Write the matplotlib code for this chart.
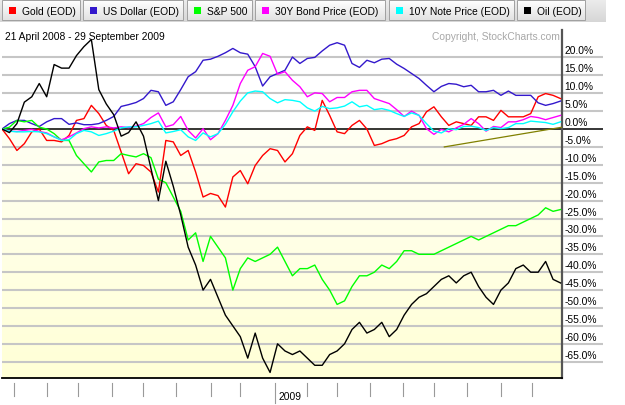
import numpy as np
import pandas as pd
import matplotlib
matplotlib.use('Agg')
import matplotlib.pyplot as plt
from matplotlib.patches import Rectangle

plt.rcParams['font.family'] = ['Liberation Sans', 'DejaVu Sans']

# ---------------- data (percent change since 21 April 2008, sampled weekly) -------------
start_date = '2008-04-21'
end_date = '2009-09-29'
step_days = 5

gold = [0, -2.7, -6, -4.1, -0.8, 0, -3.2, -3.2, -3.6, -1.8, 2.4, 2.9, 6.6, 4.3, 1, -0.4, -6.4, -12.5, -9.7, -10.2,
        -12, -17.6, -3.2, -3.6, -7.4, -6, -12, -19, -18, -18.6, -21.8, -13.4, -11.6, -15.3, -10.2, -7.4, -5.5, -6, -9.2, -6.9,
        -1.8, 0.6, -0.4, 8, 3.8, -0.8, -1.3, 1, 2.4, 0, -4.6, -4.1, -3.2, -2.7, -1.8, 0.6, 1.5, 4.8, 6.2, 3.4,
        1, 2, 1.5, 1, 3.4, 3.4, 2.4, 5.2, 3.4, 3.4, 3.4, 4.3, 9, 9.9, 9.4, 8.5]
us_dollar = [0, 1.5, 2.4, 2.4, 1.5, 0.7, 2, 2.9, 2.9, 1.3, 1.7, 1.2, 1.2, 1.5, 2.4, 3.5, 6.3, 6.8, 7.4, 8.5,
             10.8, 10.4, 6.6, 7.6, 11, 14.6, 16, 19.2, 19.5, 20.3, 21.3, 22.5, 21.3, 20.9, 17.4, 12, 14.6, 15.5, 16.4, 20.1,
             18.3, 19.7, 20, 21.8, 23.4, 24.1, 23.4, 18.3, 17.2, 19.2, 18.5, 19.5, 19.7, 18.1, 16.9, 15.5, 14.1, 12.2, 10.4, 11.9,
             12.7, 12.5, 11.8, 12.2, 10.4, 10.4, 10.8, 9.4, 10.6, 9.4, 9.4, 9.4, 7.3, 6.6, 7.1, 7.8]
sp500 = [0, 0.5, 2.4, 2, 2.4, 0.5, 0, -1.3, -3.2, -3.2, -7.4, -9.7, -12, -9.2, -8.8, -8.8, -6.9, -7.4, -7.8, -6.9,
         -8, -14, -15, -19, -23, -31, -29, -37, -30, -33, -36, -45, -39, -36, -37, -36, -35, -33, -37, -41,
         -39, -39, -38, -42, -45, -49, -48, -44, -41, -41, -40, -38, -39, -37, -34, -34, -35, -35, -35, -34,
         -33, -32, -31, -30, -31, -30, -29, -28, -27, -27, -26, -25, -24, -22, -23, -22.5]
bond30 = [0, -0.6, -0.7, -0.4, -0.1, -0.7, -1.1, -2.2, -3, -2.2, -1.1, 0.1, 0.6, 0.3, 0.6, 0.3, 0.6, 0.4, 0.8, 1.5,
          3.2, 4.5, 0.6, 1.2, 3.5, -0.4, -2.5, 0.1, -3, -1.3, 2.4, 6.6, 12.7, 16.4, 17.4, 21.1, 20.3, 15.3, 16, 13.6,
          11.8, 9, 10.1, 9.9, 7.6, 8.8, 8.8, 10.4, 10.8, 10.8, 8.5, 7.8, 7.1, 5.4, 3.5, 5, 3.8, 0.1, -1.5, -0.1,
          -0.8, 0.3, 1.3, 2.9, 1.5, -0.6, 0.7, 0.4, 2, 2, 2.6, 3.5, 3.2, 2.6, 3.2, 3.8]
note10 = [0, -0.6, -0.8, -0.8, -0.7, -0.8, -1.3, -2.2, -3.2, -3, -1.3, -0.4, -0.8, -1.8, -1.3, -0.6, 0.3, 0.6, 0.6, 1,
          1.5, 2.2, -1.1, -0.7, -0.2, -2.2, -3.2, -1.1, -2.2, -1.3, 1.3, 4.8, 7.8, 10.1, 10.6, 10.4, 8.5, 7.3, 8.2, 8,
          7.6, 5.9, 5, 6.3, 5.7, 5.9, 6.4, 7.6, 6.2, 6.6, 5.4, 5.7, 5.2, 4.3, 3.5, 4.5, 3.8, 1.5, -0.6, -1.1,
          0.1, -0.2, 0.7, 0.8, 0.4, -0.4, 0.4, 0.1, 0.4, 1.5, 1.5, 2.2, 2, 1.8, 1.3, 2]
oil = [0, -1, 1.5, 7.5, 9, 12.7, 9, 18, 17, 17, 20.5, 23, 25, 11, 7, 4, -2, -1, 2, -2,
       -11, -20, -9, -16, -24, -33, -38, -45, -42, -47, -52, -55, -58, -64, -57, -64, -68, -60, -62, -63,
       -62, -64, -66, -66, -63, -62, -60, -56, -54, -57, -56, -54, -58, -56, -52, -49, -47, -46, -44, -42,
       -41, -43, -41, -40, -44, -47, -49, -45, -43, -39, -38, -40, -40, -37, -42, -43]

series_names = ['Gold (EOD)', 'US Dollar (EOD)', 'S&P 500', '30Y Bond Price (EOD)', '10Y Note Price (EOD)', 'Oil (EOD)']
series_values = [gold, us_dollar, sp500, bond30, note10, oil]
series_colors = ['#FF0000', '#3318CC', '#00FF00', '#FF00FF', '#00FFFF', '#000000']

trend_dates = ['2009-06-10', '2009-09-29']
trend_values = [-5.0, 0.5]

grid_levels = list(range(-65, 25, 5))
date_range_text = '21 April 2008 - 29 September 2009'
copyright_text = 'Copyright, StockCharts.com'

# ---------------- figure ----------------
W, H = 625, 406
fig = plt.figure(figsize=(W / 100, H / 100), dpi=100)
fig.patch.set_facecolor('white')


def fx(px):
    return px / W


def fy(py):
    return 1 - py / H


days = pd.bdate_range(start_date, end_date)
n_days = len(days)
x_idx = np.arange(0, n_days, step_days)

L, R, T, B = 2, 562, 31, 379
ax = fig.add_axes([fx(L), fy(B), fx(R) - fx(L), fy(T) - fy(B)], zorder=1)
ymin, ymax = -69.55, 27.65
px_per_ax = 1.0 / (B - T)

# background: white above zero, pale yellow gradient below
grad = np.linspace(0, 1, 200).reshape(-1, 1)
from matplotlib.colors import LinearSegmentedColormap
ycmap = LinearSegmentedColormap.from_list('y', ['#FFFFF3', '#FFFFD6'])
ax.imshow(grad, extent=[0, n_days - 1, ymin, 0], aspect='auto', cmap=ycmap, origin='upper', zorder=0)

# grid lines (extend under the right labels)
ext = (603 - L) / (R - L)
for v in grid_levels:
    if v == 0:
        continue
    ax.plot([0, ext], [v, v], transform=ax.get_yaxis_transform(), color='#C6C6C6', lw=1.5,
            clip_on=False, zorder=1, solid_capstyle='butt')

# series
for vals, col in zip(series_values, series_colors):
    ax.plot(x_idx, vals, color=col, lw=1.0, zorder=3)

# zero line
ax.plot([0, ext], [0, 0], transform=ax.get_yaxis_transform(), color='black', lw=1.1,
        clip_on=False, zorder=2.5, solid_capstyle='butt')

# trend line
t_idx = [days.searchsorted(pd.Timestamp(d)) for d in trend_dates]
ax.plot(t_idx, trend_values, color='#808000', lw=0.9, zorder=3.5)

ax.set_xlim(0, n_days - 1)
ax.set_ylim(ymin, ymax)
ax.set_xticks([])
ax.set_yticks([])
for s in ['top', 'left']:
    ax.spines[s].set_visible(False)
ax.spines['right'].set_color('#555555')
ax.spines['right'].set_linewidth(1.6)
ax.spines['bottom'].set_color('#000000')
ax.spines['bottom'].set_linewidth(1.3)

# right-hand percentage labels
for v in grid_levels:
    ax.annotate(f'{v:.1f}%', xy=(1, v), xycoords=ax.get_yaxis_transform(),
                xytext=(1.8, 5.0), textcoords='offset points', ha='left', va='center',
                fontsize=7.4, color='black', annotation_clip=False)

# month ticks
xt = ax.get_xaxis_transform()
month_starts = pd.date_range('2008-05-01', '2009-09-01', freq='MS')
for m in month_starts:
    i = days.searchsorted(m)
    long = (m.month == 1)
    y1 = -(384 - B) * px_per_ax
    y2 = -((404 if long else 397) - B) * px_per_ax
    ax.plot([i, i], [y1, y2], transform=xt, color='#9A9A9A', lw=0.8, clip_on=False)
    if long:
        ax.annotate(str(m.year), xy=(i, 0), xycoords=xt, xytext=(3.0, -13.2),
                    textcoords='offset points', ha='left', va='center', fontsize=7.4,
                    annotation_clip=False)

# texts at top of chart
fig.text(fx(5), fy(37), date_range_text, fontsize=7.4, va='center', ha='left', zorder=5)
fig.text(fx(560), fy(37), copyright_text, fontsize=7.4, va='center', ha='right', color='#A8A8A8', zorder=5)

# ---------------- legend bar ----------------
ov = fig.add_axes([0, 0, 1, 1], zorder=0)
ov.set_xlim(0, W)
ov.set_ylim(H, 0)
ov.axis('off')
bar = np.linspace(0, 1, 50).reshape(-1, 1)
ov.imshow(bar, extent=[0, 606, 23, 0], aspect='auto',
          cmap=LinearSegmentedColormap.from_list('g', ['#EDEDED', '#D6D6D6']), zorder=0)
boxes = [(2, 80), (83, 183), (187, 252), (255, 385), (389, 514), (517, 585)]
bcmap = LinearSegmentedColormap.from_list('b', ['#FFFFFF', '#E2E2E2'])
for (x0, x1), name, col in zip(boxes, series_names, series_colors):
    ov.imshow(bar, extent=[x0, x1, 21, 1], aspect='auto', cmap=bcmap, zorder=1)
    ov.add_patch(Rectangle((x0, 1), x1 - x0, 20, fill=False, edgecolor='#A0A0A0', lw=0.7, zorder=2))
    ov.add_patch(Rectangle((x0 + 7, 8), 7, 7, facecolor=col, edgecolor='none', zorder=3))
    ov.text(x0 + 20, 12, name, fontsize=7.4, va='center', ha='left', zorder=3)
ov.set_xlim(0, W)
ov.set_ylim(H, 0)

fig.savefig('out.png', dpi=100)
